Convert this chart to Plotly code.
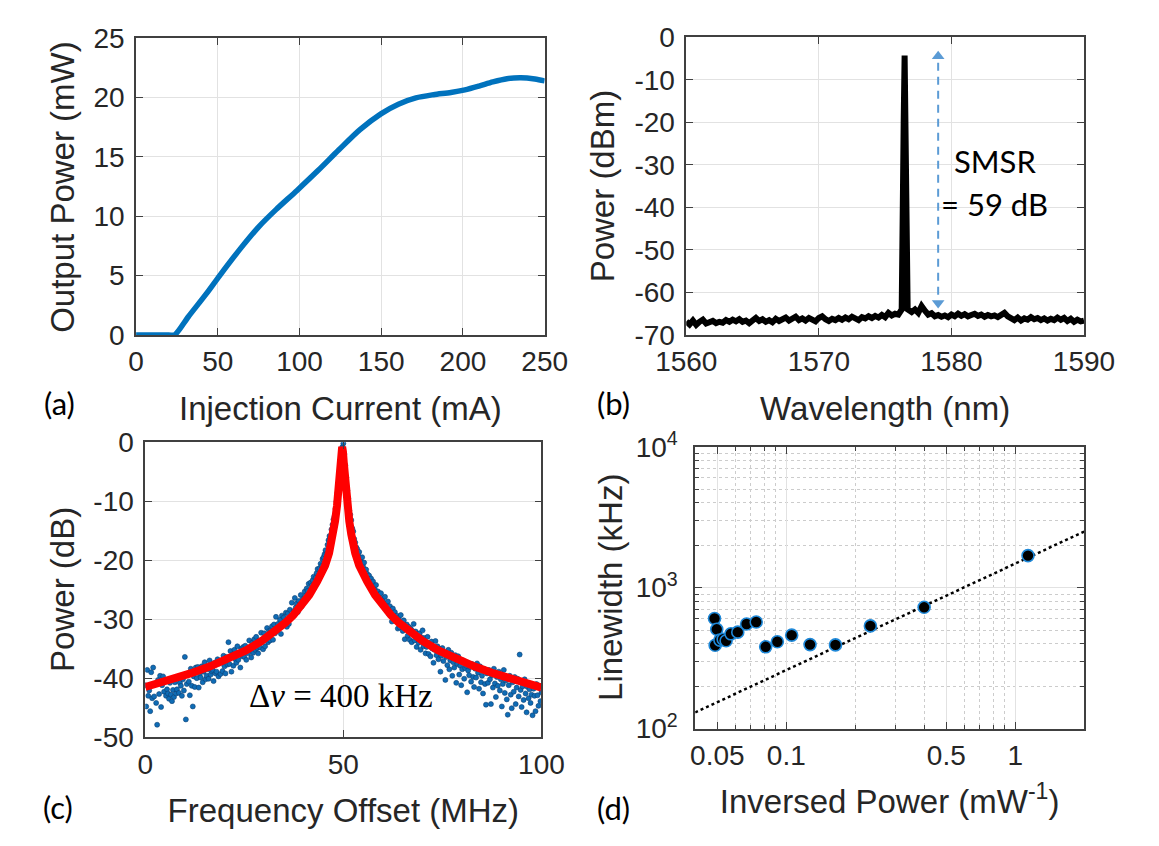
import plotly.graph_objects as go

W, H = 1159, 846

# ---------------- (a) L-I curve ----------------
current_mA = [0, 10, 20, 23.5, 32.1, 42.8, 51.4, 64.2, 74.9, 85.6, 98.5, 111.3, 124.1,
              137.0, 149.8, 160.5, 171.2, 182.0, 192.6, 201.2, 209.8, 218.3, 226.9,
              235.4, 244.0, 250.0]
power_mW = [0, 0, 0, 0, 1.56, 3.44, 5.05, 7.34, 9.09, 10.56, 12.18, 13.85, 15.6,
            17.3, 18.63, 19.44, 19.97, 20.24, 20.43, 20.65, 20.97, 21.32, 21.59,
            21.67, 21.56, 21.4]

# ---------------- (b) optical spectrum ----------------
wl_left = [1560 + 0.25 * i for i in range(65)]
pw_left = [-66.8, -67.5, -66.6, -67.6, -66.9, -66.4, -67.3, -67.0, -66.7, -67.2, -66.9, -67.1,
           -66.5, -66.9, -66.4, -66.8, -66.3, -66.9, -66.6, -67.2, -66.4, -66.0, -66.7, -66.3,
           -66.9, -66.5, -67.0, -66.2, -66.7, -66.4, -65.9, -66.6, -66.3, -65.7, -66.5, -66.1,
           -66.6, -66.0, -66.4, -66.8, -66.0, -65.6, -66.3, -66.7, -66.2, -66.5, -66.0, -66.4,
           -65.9, -66.3, -65.7, -66.2, -66.5, -65.8, -66.1, -65.6, -66.0, -65.5, -65.9, -65.3,
           -65.8, -64.8, -65.4, -65.0, -65.2]
wl_peak = [1576.25, 1576.33, 1576.40, 1576.47, 1576.54, 1576.61, 1576.70]
pw_peak = [-64.0, -50.0, -20.0, -4.3, -20.0, -50.0, -64.0]
wl_right = [1577 + 0.25 * i for i in range(53)]
pw_right = [-64.6, -64.0, -64.8, -63.2, -64.3, -65.2, -64.9, -65.6, -65.3, -65.7, -65.4, -65.8,
            -65.2, -65.6, -65.0, -65.5, -65.1, -65.6, -65.3, -65.0, -65.5, -65.2, -65.7, -65.3,
            -65.6, -65.4, -65.8, -65.1, -64.8, -65.6, -66.2, -66.5, -65.9, -66.6, -66.1, -66.4,
            -65.8, -66.3, -66.0, -66.5, -66.1, -66.6, -66.2, -66.5, -65.9, -66.4, -66.0, -66.7,
            -66.2, -66.9, -66.4, -66.8, -66.6]
wavelength_nm = wl_left + wl_peak + wl_right
spectrum_dBm = pw_left + pw_peak + pw_right
smsr_x = [1579, 1579]
smsr_y = [-6.0, -61.0]
smsr_head_y = [-4.5, -62.5]

# ---------------- (c) self-heterodyne spectrum ----------------
freq_MHz = [0.25 * i for i in range(401)]
rf_dB = [
    -41.2, -44.8, -38.6, -43.0, -42.1, -45.6, -39.0, -43.4, -38.2, -43.1, -41.0, -44.2,
    -47.9, -40.3, -42.7, -39.6, -44.9, -41.2, -39.7, -42.3, -40.5, -43.0, -41.9, -42.6,
    -43.5, -40.8, -42.8, -43.9, -42.0, -43.2, -40.7, -42.6, -41.9, -39.9, -42.5, -40.8,
    -41.3, -43.0, -40.2, -42.1, -36.4, -47.0, -41.0, -39.2, -40.6, -42.9, -38.4, -41.3,
    -44.8, -39.7, -41.5, -38.2, -40.0, -38.1, -41.6, -39.3, -39.9, -38.0, -40.7, -38.9,
    -37.3, -40.2, -39.6, -38.5, -40.1, -37.0, -39.4, -38.8, -38.6, -40.5, -37.4, -39.2,
    -38.9, -36.8, -39.7, -37.5, -39.3, -37.0, -38.8, -36.2, -38.0, -39.2, -36.4, -37.7,
    -33.9, -37.6, -35.4, -38.9, -36.0, -37.9, -35.2, -36.8, -37.4, -34.6, -36.9, -35.8,
    -38.2, -35.0, -36.3, -34.7, -36.4, -34.5, -36.9, -35.1, -35.8, -33.6, -34.9, -36.5,
    -34.0, -35.7, -33.4, -35.2, -33.0, -34.9, -35.8, -33.6, -34.8, -32.3, -33.7, -35.1,
    -32.4, -34.6, -33.0, -31.5, -33.9, -32.0, -33.6, -31.8, -31.2, -33.5, -30.9, -32.4,
    -29.6, -32.0, -30.8, -31.4, -30.1, -32.5, -29.4, -31.0, -29.7, -30.6, -28.9, -31.3,
    -29.0, -30.8, -28.4, -29.6, -27.2, -29.3, -28.6, -26.4, -28.0, -27.3, -28.8, -26.9,
    -27.5, -25.9, -27.8, -26.6, -26.8, -25.3, -26.0, -24.8, -25.2, -24.0, -25.6, -23.8,
    -24.3, -23.4, -22.8, -24.0, -23.0, -22.2, -21.5, -22.6, -21.4, -20.6, -21.0, -19.8,
    -19.5, -19.0, -18.3, -18.9, -17.4, -16.6, -15.9, -16.3, -14.8, -14.0, -13.1, -12.6,
    -11.3, -10.1, -8.6, -7.4, -5.6, -4.3, -2.2, -0.8,
    -0.2,
    -2.0, -3.9, -6.0,
    -8.2, -9.5, -11.6, -12.3, -13.2, -14.6, -15.1, -16.4, -17.0, -17.8, -18.1, -19.2,
    -18.6, -19.9, -20.3, -19.5, -21.1, -20.4, -22.2, -21.6, -22.3, -23.2, -22.6, -23.8,
    -23.1, -24.4, -23.6, -24.9, -25.0, -24.2, -26.1, -25.3, -25.8, -26.9, -25.6, -27.0,
    -26.5, -27.6, -26.2, -27.3, -28.2, -27.0, -29.1, -27.8, -28.5, -30.4, -28.2, -29.0,
    -28.8, -30.3, -29.4, -31.6, -29.8, -31.4, -29.3, -30.6, -32.0, -30.2, -33.4, -31.0,
    -30.9, -32.8, -31.3, -33.5, -31.6, -33.9, -32.0, -30.8, -33.6, -32.1, -34.7, -32.5,
    -34.0, -32.4, -35.2, -33.1, -31.9, -34.6, -33.2, -35.8, -34.7, -33.0, -35.9, -34.1,
    -36.3, -33.8, -35.0, -37.4, -35.2, -33.7, -36.1, -34.6, -36.8, -35.0, -38.9, -36.2,
    -34.9, -37.1, -35.6, -40.3, -36.4, -37.8, -35.2, -38.5, -37.0, -35.7, -39.6, -37.3,
    -38.2, -36.1, -40.8, -37.6, -36.3, -39.4, -37.9, -41.2, -38.5, -37.0, -40.1, -38.3,
    -37.9, -42.4, -38.7, -39.5, -38.1, -40.6, -37.6, -39.8, -41.5, -38.4, -39.9, -37.5,
    -39.1, -41.8, -38.0, -40.7, -39.6, -42.6, -38.4, -41.0, -44.5, -39.2, -40.8, -38.6,
    -40.2, -44.4, -39.5, -41.6, -38.4, -40.9, -43.2, -39.8, -41.3, -38.9, -42.1, -40.2,
    -44.8, -41.0, -38.6, -42.5, -40.4, -43.6, -46.2, -41.2, -39.6, -42.8, -45.1, -40.7,
    -42.3, -39.8, -44.4, -41.6, -40.1, -43.1, -36.0, -42.0, -44.9, -41.4, -43.7, -40.2,
    -42.6, -45.8, -41.5, -43.4, -41.9, -44.2, -42.8, -46.3, -41.8, -43.0, -45.6, -41.0,
    -42.9, -44.7, -41.3, -43.9, -42.4,
]
fit_MHz = [0, 6.4, 11.4, 16.4, 21.4, 25.4, 29.4, 32.4, 35.4, 37.4, 39.4, 41.4, 43.4, 44.4,
           45.4, 46.4, 46.9, 47.4, 47.9, 48.4, 48.7, 48.9, 49.1, 49.3, 49.5, 49.7, 49.9,
           50.1, 50.3, 50.5, 50.7, 51.0, 51.5, 52.0, 52.5, 53.0, 54.0, 55.0, 56.0, 58.0,
           60.0, 62.0, 64.0, 67.0, 70.0, 74.0, 78.0, 83.0, 88.0, 93.0, 100.0]
fit_dB = [-41.5, -40.3, -39.2, -38.0, -36.6, -35.3, -33.7, -32.3, -30.6, -29.3, -27.8, -25.9,
          -23.6, -22.4, -20.9, -18.8, -17.4, -15.6, -13.4, -10.8, -8.8, -7.4, -5.6, -3.4,
          -1.6, -0.8, -1.6, -3.4, -5.6, -7.4, -8.8, -10.8, -13.4, -15.6, -17.4, -18.8,
          -20.9, -22.4, -23.6, -25.9, -27.8, -29.3, -30.6, -32.3, -33.7, -35.3, -36.6,
          -38.0, -39.2, -40.3, -41.6]

# ---------------- (d) linewidth vs inverse power ----------------
inv_power = [0.0486, 0.0497, 0.0489, 0.0513, 0.0530, 0.0546, 0.0573, 0.0614, 0.0671, 0.0739,
             0.0813, 0.0914, 0.1056, 0.127, 0.164, 0.233, 0.400, 1.137]
linewidth_kHz = [604, 506, 390, 424, 430, 420, 470, 483, 552, 570,
                 380, 413, 460, 394, 392, 535, 725, 1687]
trend_x = [0.04, 2.0]
trend_y = [130, 2500]

# ---------------- layout helpers ----------------
def dom(x0, x1, y0, y1):
    return dict(domain=[x0 / W, x1 / W]), dict(domain=[1 - y1 / H, 1 - y0 / H])

TICKFONT = dict(family="Liberation Sans, Arial, sans-serif", size=28, color="#262626")
TITLEFONT = dict(family="Liberation Sans, Arial, sans-serif", size=33, color="#262626")
AX = dict(showline=True, linecolor="#404040", linewidth=1.6, mirror="ticks",
          ticks="inside", ticklen=7, tickwidth=1.3, tickcolor="#404040",
          showgrid=True, gridcolor="#e2e2e2", gridwidth=1, zeroline=False,
          tickfont=TICKFONT)
XSTAND = 1
YSTAND = 4

def ttl(t, s):
    return dict(text=t, font=TITLEFONT, standoff=s)

fig = go.Figure()

fig.add_trace(go.Scatter(x=current_mA, y=power_mW, mode="lines",
                         line=dict(color="#0072BD", width=5.5, shape="spline", smoothing=0.8),
                         xaxis="x", yaxis="y", showlegend=False))
fig.add_trace(go.Scatter(x=wavelength_nm, y=spectrum_dBm, mode="lines",
                         line=dict(color="black", width=6), xaxis="x2", yaxis="y2",
                         showlegend=False))
fig.add_trace(go.Scatter(x=smsr_x, y=smsr_y, mode="lines",
                         line=dict(color="#5B9BD5", width=2, dash="8px,6px"),
                         xaxis="x2", yaxis="y2", showlegend=False))
fig.add_trace(go.Scatter(x=smsr_x, y=smsr_head_y, mode="markers",
                         marker=dict(symbol=["triangle-up", "triangle-down"], size=11,
                                     color="#5B9BD5", line=dict(width=0)),
                         xaxis="x2", yaxis="y2", showlegend=False))
fig.add_trace(go.Scatter(x=freq_MHz, y=rf_dB, mode="markers",
                         marker=dict(color="#0F6CB5", size=5, line=dict(color="#0B3F73", width=0.6)),
                         xaxis="x3", yaxis="y3", showlegend=False))
fig.add_trace(go.Scatter(x=fit_MHz, y=fit_dB, mode="lines",
                         line=dict(color="#FF0000", width=8), xaxis="x3", yaxis="y3",
                         showlegend=False))
fig.add_trace(go.Scatter(x=trend_x, y=trend_y, mode="lines",
                         line=dict(color="black", width=2.5, dash="dot"),
                         xaxis="x4", yaxis="y4", showlegend=False))
fig.add_trace(go.Scatter(x=inv_power, y=linewidth_kHz, mode="markers",
                         marker=dict(color="black", size=12, line=dict(color="#1E88D8", width=1.6)),
                         xaxis="x4", yaxis="y4", showlegend=False))

xa, ya = dom(111, 542.7, 19, 329)
xb, yb = dom(692.3, 1112.5, 18, 329)
xc, yc = dom(120.7, 539.3, 441, 749)
xd, yd = dom(701.7, 1112.7, 445.7, 740)

fig.update_layout(
    width=W, height=H, margin=dict(l=0, r=0, t=0, b=0),
    paper_bgcolor="white", plot_bgcolor="white", showlegend=False,
    xaxis=dict(**AX, **xa, anchor="y", range=[0, 250], tickvals=[0, 50, 100, 150, 200, 250],
               ticklabelstandoff=XSTAND, title=ttl("Injection Current (mA)", 20)),
    yaxis=dict(**AX, **ya, anchor="x", range=[0, 25], tickvals=[0, 5, 10, 15, 20, 25],
               ticklabelstandoff=YSTAND),
    xaxis2=dict(**AX, **xb, anchor="y2", range=[1560, 1590],
                tickvals=[1560, 1570, 1580, 1590], ticklabelstandoff=XSTAND,
                title=ttl("Wavelength (nm)", 20)),
    yaxis2=dict(**AX, **yb, anchor="x2", range=[-70, 0],
                tickvals=[-70, -60, -50, -40, -30, -20, -10, 0],
                ticktext=["-70", "-60", "-50", "-40", "-30", "-20", "-10", "0"],
                ticklabelstandoff=YSTAND),
    xaxis3=dict(**AX, **xc, anchor="y3", range=[0, 100], tickvals=[0, 50, 100],
                ticklabelstandoff=XSTAND, title=ttl("Frequency Offset (MHz)", 20)),
    yaxis3=dict(**AX, **yc, anchor="x3", range=[-50, 0],
                tickvals=[-50, -40, -30, -20, -10, 0],
                ticktext=["-50", "-40", "-30", "-20", "-10", "0"], ticklabelstandoff=YSTAND),
    xaxis4=dict(**AX, **xd, anchor="y4", type="log", range=[-1.39794, 0.30103],
                tickvals=[0.05, 0.1, 0.5, 1], ticktext=["0.05", "0.1", "0.5", "1"],
                ticklabelstandoff=XSTAND, title=ttl("Inversed Power (mW<sup>-1</sup>)", 20),
                minor=dict(tickvals=[0.04, 0.06, 0.07, 0.08, 0.09, 0.2, 0.3, 0.4, 0.6, 0.7,
                                     0.8, 0.9, 2], ticks="inside", ticklen=4,
                           tickcolor="#404040", showgrid=True, gridcolor="#cccccc",
                           griddash="dot", gridwidth=1)),
    yaxis4=dict(**AX, **yd, anchor="x4", type="log", range=[2, 4],
                tickvals=[100, 1000, 10000],
                ticktext=["10<sup>2</sup>", "10<sup>3</sup>", "10<sup>4</sup>"],
                ticklabelstandoff=10,
                minor=dict(tickvals=[200, 300, 400, 500, 600, 700, 800, 900, 2000, 3000,
                                     4000, 5000, 6000, 7000, 8000, 9000], ticks="inside",
                           ticklen=4, tickcolor="#404040", showgrid=True,
                           gridcolor="#cccccc", griddash="dot", gridwidth=1)),
)

annotations = []
for text, px, py in [("Output Power (mW)", 33, 174), ("Power (dBm)", 604, 173),
                     ("Power (dB)", 33, 595), ("Linewidth (kHz)", 613, 593)]:
    annotations.append(dict(text=text, x=px / W, y=1 - py / H, xref="paper", yref="paper",
                            showarrow=False, xanchor="center", yanchor="middle",
                            textangle=-90, font=TITLEFONT))
LABELFONT = dict(family="Lato, sans-serif", size=31, color="black")
for text, px, py in [("(a)", 30, 400), ("(b)", 615, 400), ("(c)", 29, 822), ("(d)", 615, 823)]:
    annotations.append(dict(text=text, x=px / W, y=1 - py / H, xref="paper", yref="paper",
                            showarrow=False, xanchor="center", yanchor="middle",
                            font=LABELFONT))
annotations.append(dict(text="SMSR", x=1018 / W, y=1 - 147 / H, xref="paper", yref="paper",
                        showarrow=False, xanchor="center", yanchor="middle",
                        font=dict(family="Lato, sans-serif", size=31, color="black")))
annotations.append(dict(text="= 59 dB", x=1018 / W, y=1 - 192 / H, xref="paper", yref="paper",
                        showarrow=False, xanchor="center", yanchor="middle",
                        font=dict(family="Lato, sans-serif", size=31, color="black")))
annotations.append(dict(text="Δ<i>ν</i> = 400 kHz", x=49.5, y=-43, xref="x3", yref="y3",
                        showarrow=False, xanchor="center", yanchor="middle",
                        font=dict(family="Liberation Serif, Times New Roman, serif", size=33,
                                  color="black")))
fig.update_layout(annotations=annotations)

fig.write_html("out.html")
